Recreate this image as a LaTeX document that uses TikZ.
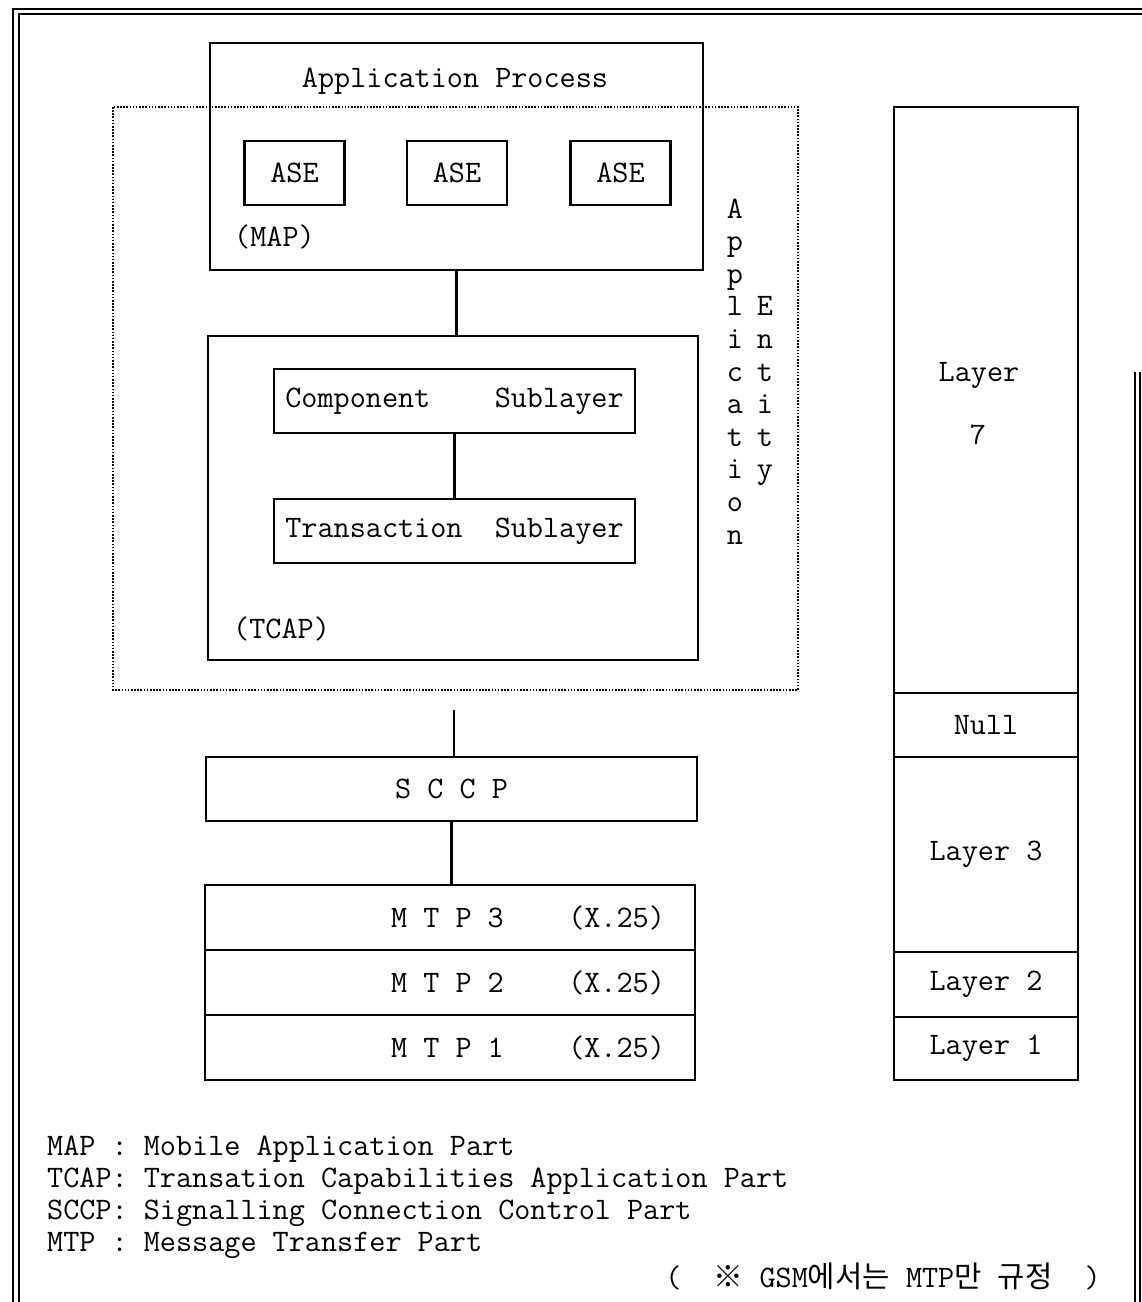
\documentclass[tikz,border=0pt]{standalone}
\usepackage{fontspec}
\newfontfamily\kr{Noto Sans CJK KR}[Scale=0.95]
\usepackage{tikz}
\usetikzlibrary{positioning}

\begin{document}
\begin{tikzpicture}[
    font=\fontsize{17.8}{20}\selectfont\ttfamily,
    box/.style={rectangle, draw, line width=1.6pt, inner sep=0pt, outer sep=0pt, minimum width=#1},
    link/.style={line width=1.6pt},
    frame/.style={line width=1.1pt},
    entity/.style={line width=0.7pt, dash pattern=on 0.9pt off 0.9pt}
]
\useasboundingbox (0,0) rectangle (22.84,-26.04);
% page frame
\draw[frame] (0.26,-26.04) -- (0.26,-0.18) -- (22.84,-0.18);
\draw[frame] (0.38,-26.04) -- (0.38,-0.28) -- (22.84,-0.28);
\draw[frame] (22.70,-7.44) -- (22.70,-26.04);
\draw[frame] (22.80,-7.44) -- (22.80,-26.04);

% application entity
\draw[entity] (2.26,-2.14) rectangle (15.96,-13.80);
\node[box=9.86cm, minimum height=4.54cm] (ap) at (9.13,-3.13) {};
\node[anchor=base] (apt) at (9.10,-1.76) {Application Process};
\foreach \x [count=\i] in {5.89,9.14,12.41}
  \node[box=2cm, minimum height=1.28cm] (ase\i) at (\x,-3.46) {ASE};
\node[anchor=base west] (map) at (4.56,-4.92) {(MAP)};

\node[box=9.80cm, minimum height=6.48cm] (tcap) at (9.06,-9.96) {};
\node[box=7.22cm, minimum height=1.28cm] (comp) at (9.09,-8.02) {Component\ \ \ \ Sublayer};
\node[box=7.22cm, minimum height=1.28cm, below=1.32cm of comp] (trans) {Transaction\ \ Sublayer};
\node[anchor=base west] (tcapt) at (4.54,-12.76) {(TCAP)};

\foreach \c [count=\i from 0] in {A,p,p,l,i,c,a,t,i,o,n}
  \node[anchor=base] (aa\i) at (14.70,{-4.36-0.652*\i}) {\c};
\foreach \c [count=\i from 3] in {E,n,t,i,t,y}
  \node[anchor=base] (ee\i) at (15.30,{-4.36-0.652*\i}) {\c};

\draw[link] (ap.south) -- (ap.south |- tcap.north);
\draw[link] (comp.south) -- (trans.north);

% lower layers
\coordinate (aeout) at (9.08,-14.20);
\node[box=9.82cm, minimum height=1.28cm] (sccp) at (9.03,-15.78) {S C C P};
\draw[link] (aeout) -- (aeout |- sccp.north);
\foreach \n/\y in {3/-18.35,2/-19.65,1/-20.95} {
  \node[box=9.80cm, minimum height=1.30cm] (mtp\n) at (9.00,\y) {};
  \node (mtpt\n) at (10.56,\y) {M T P \n\ \ \ \ (X.25)};
}
\draw[link] (sccp.south) -- (sccp.south |- mtp3.north);

% osi column
\node[box=3.68cm, minimum height=11.72cm] (l7) at (19.72,-8.00) {};
\node[anchor=base] (l7a) at (19.58,-7.62) {Layer};
\node[anchor=base] (l7b) at (19.56,-8.88) {7};
\node[box=3.68cm, minimum height=1.28cm, below=0pt of l7] (null) {Null};
\node[box=3.68cm, minimum height=3.90cm, below=0pt of null] (l3) {Layer 3};
\node[box=3.68cm, minimum height=1.30cm, below=0pt of l3] (l2) {Layer 2};
\node[box=3.68cm, minimum height=1.26cm, below=0pt of l2] (l1) {Layer 1};

% legend
\foreach \t [count=\i from 0] in {MAP : Mobile Application Part,
    TCAP: Transation Capabilities Application Part,
    SCCP: Signalling Connection Control Part,
    MTP : Message Transfer Part}
  \node[anchor=base west] (leg\i) at (0.82,{-23.10-0.646*\i}) {\t};
\node[anchor=base east] (note) at (22.14,-25.74)
  {(\ \ {\kr ※}\ GSM{\kr 에서는}\ MTP{\kr 만}\ {\kr 규정}\ \ )};
\end{tikzpicture}
\end{document}
